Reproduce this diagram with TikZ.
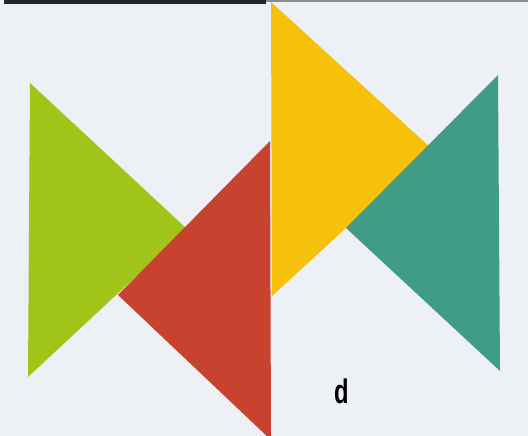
\documentclass[tikz,border=0pt]{standalone}
\usepackage{fontspec}
\newfontfamily\labelfont{Liberation Sans}
\definecolor{paper}{HTML}{EDF0F4}
\definecolor{tgreen}{HTML}{A0C418}
\definecolor{tred}{HTML}{C7432F}
\definecolor{tyellow}{HTML}{F5C10A}
\definecolor{tteal}{HTML}{409B88}
\tikzset{tri/.style={line join=miter}}
\begin{document}
\begin{tikzpicture}[x=1pt,y=-1pt]
\fill[paper] (0,0) rectangle (528,436);
\useasboundingbox (0,0) rectangle (528,436);
% top rule
\fill[black!85] (4,0) rectangle (266,4);
\fill[black!45] (266,0) rectangle (528,2);
% triangles
\fill[tgreen,tri] (30,83) -- (187,229) -- (28,377) -- cycle;
\fill[tred,tri] (118,295) -- (270,141) -- (271,440) -- cycle;
\fill[tyellow,tri] (271,2) -- (432,149) -- (272,296) -- cycle;
\fill[tteal,tri] (498,75) -- (346,228) -- (500,371) -- cycle;
% label
\node[font=\labelfont\bfseries\fontsize{34}{34}\selectfont, xscale=0.7, anchor=base, inner sep=0] (lbl) at (341.5,403) {d};
\end{tikzpicture}
\end{document}
